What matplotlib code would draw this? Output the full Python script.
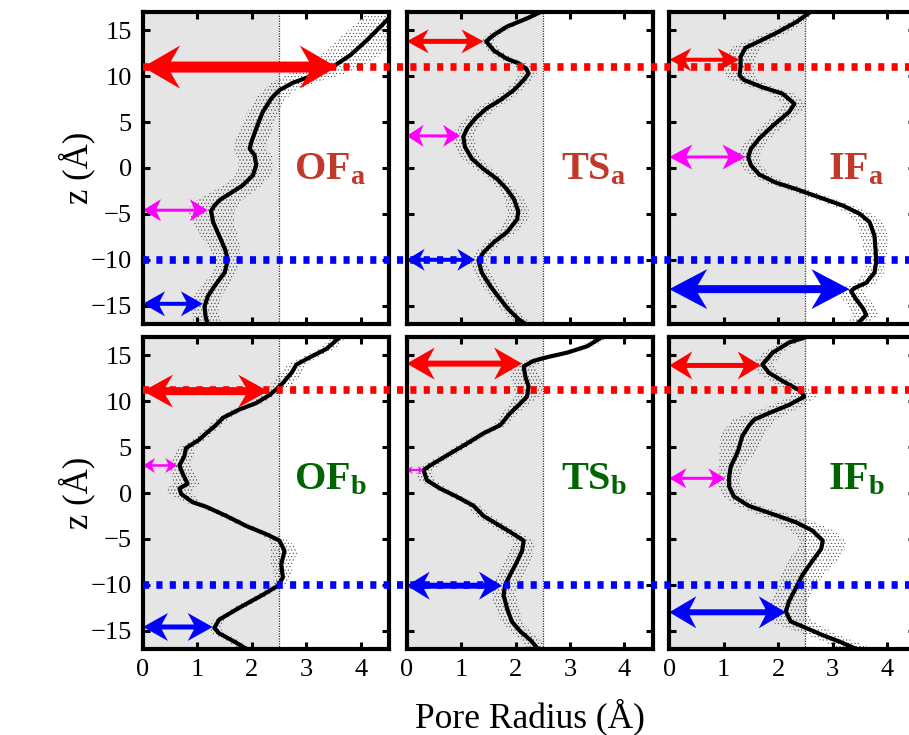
import matplotlib
matplotlib.use("Agg")
import matplotlib.pyplot as plt
from matplotlib.patches import Polygon
from matplotlib.lines import Line2D
import matplotlib.transforms as mtransforms

plt.rcParams['font.family'] = ['Liberation Serif', 'DejaVu Serif']
plt.rcParams['mathtext.fontset'] = 'custom'
plt.rcParams['mathtext.rm'] = 'Liberation Serif'
plt.rcParams['mathtext.bf'] = 'Liberation Serif:bold'
plt.rcParams['hatch.linewidth'] = 0.35

# ---------------- data ----------------
panel_names = [r'$\mathbf{OF_a}$', r'$\mathbf{TS_a}$', r'$\mathbf{IF_a}$',
               r'$\mathbf{OF_b}$', r'$\mathbf{TS_b}$', r'$\mathbf{IF_b}$']

of_a_z = [16.9, 16.1, 13.9, 12.3, 11.2, 10.1, 9.3, 8.5, 7.6, 6.1, 4.3, 2.8, 2.1, 1.4, 0.3, -0.8, -1.9, -2.7, -3.4, -4.1, -4.7, -5.9, -7.4, -8.9, -10.0, -11.4, -12.9, -14.0, -15.1, -16.2, -17.0]
of_a_r = [4.60, 4.48, 4.11, 3.81, 3.53, 3.13, 2.76, 2.51, 2.36, 2.20, 2.08, 1.99, 1.96, 2.05, 2.08, 2.02, 1.83, 1.62, 1.43, 1.31, 1.25, 1.29, 1.40, 1.51, 1.56, 1.50, 1.31, 1.19, 1.13, 1.15, 1.19]
of_a_e = [0.5, 0.5, 0.55, 0.55, 0.55, 0.5, 0.4, 0.3, 0.28, 0.28, 0.3, 0.3, 0.3, 0.32, 0.32, 0.32, 0.35, 0.4, 0.42, 0.43, 0.43, 0.38, 0.34, 0.28, 0.22, 0.22, 0.25, 0.25, 0.25, 0.25, 0.25]

ts_a_z = [17.0, 16.3, 15.4, 14.5, 13.8, 12.8, 11.9, 11.4, 10.8, 10.3, 9.6, 8.5, 7.4, 6.5, 5.4, 4.3, 3.4, 2.3, 1.0, -0.1, -1.2, -2.3, -3.4, -4.7, -5.6, -7.0, -8.1, -9.2, -10.1, -11.4, -12.9, -14.3, -15.4, -16.5, -17.1]
ts_a_r = [2.46, 2.21, 1.84, 1.60, 1.46, 1.60, 1.84, 2.06, 2.20, 2.24, 2.15, 1.97, 1.72, 1.47, 1.26, 1.11, 1.04, 1.07, 1.20, 1.41, 1.66, 1.84, 1.97, 2.05, 2.03, 1.84, 1.60, 1.41, 1.32, 1.38, 1.54, 1.72, 1.87, 2.06, 2.21]
ts_a_e = [0.1, 0.1, 0.12, 0.12, 0.12, 0.12, 0.15, 0.15, 0.15, 0.15, 0.15, 0.15, 0.18, 0.18, 0.18, 0.2, 0.2, 0.2, 0.18, 0.15, 0.15, 0.15, 0.18, 0.2, 0.2, 0.18, 0.15, 0.15, 0.15, 0.15, 0.15, 0.15, 0.15, 0.15, 0.15]

if_a_z = [16.9, 15.9, 14.7, 13.8, 13.1, 12.1, 11.0, 10.1, 9.6, 8.8, 8.1, 7.0, 6.1, 4.6, 3.2, 2.1, 1.2, 0.3, -0.7, -1.6, -2.3, -3.2, -4.1, -5.0, -5.9, -7.4, -8.9, -10.3, -11.4, -12.5, -13.1, -13.4, -14.3, -15.3, -16.0, -16.7, -17.1]
if_a_r = [2.57, 2.33, 1.96, 1.65, 1.40, 1.31, 1.31, 1.29, 1.37, 1.71, 2.08, 2.30, 2.20, 1.90, 1.65, 1.50, 1.45, 1.50, 1.65, 1.96, 2.33, 2.76, 3.19, 3.50, 3.68, 3.77, 3.79, 3.80, 3.77, 3.62, 3.40, 3.34, 3.43, 3.56, 3.62, 3.50, 3.43]
if_a_e = [0.1, 0.15, 0.2, 0.25, 0.28, 0.28, 0.28, 0.28, 0.25, 0.22, 0.22, 0.22, 0.22, 0.2, 0.2, 0.2, 0.2, 0.2, 0.2, 0.2, 0.2, 0.2, 0.2, 0.22, 0.25, 0.25, 0.22, 0.18, 0.18, 0.2, 0.22, 0.22, 0.25, 0.25, 0.25, 0.2, 0.2]

of_b_z = [17.0, 15.7, 14.8, 14.0, 13.1, 12.0, 11.3, 10.7, 9.8, 9.1, 8.2, 7.4, 6.5, 5.8, 4.9, 4.0, 3.0, 2.1, 1.0, 0.5, -0.1, -1.0, -1.5, -2.5, -3.6, -4.5, -5.2, -6.3, -7.8, -9.2, -10.1, -11.1, -12.5, -13.8, -14.7, -15.3, -16.2, -17.1]
of_b_r = [3.62, 3.37, 3.07, 2.82, 2.73, 2.57, 2.45, 2.33, 2.08, 1.77, 1.47, 1.34, 1.16, 1.03, 0.79, 0.76, 0.67, 0.73, 0.82, 0.67, 0.70, 0.91, 1.16, 1.53, 1.90, 2.27, 2.51, 2.60, 2.54, 2.57, 2.48, 2.20, 1.77, 1.40, 1.31, 1.40, 1.68, 1.93]
of_b_e = [0.12, 0.15, 0.15, 0.18, 0.2, 0.2, 0.15, 0.12, 0.12, 0.12, 0.12, 0.12, 0.12, 0.12, 0.15, 0.18, 0.2, 0.22, 0.25, 0.25, 0.22, 0.15, 0.12, 0.12, 0.12, 0.12, 0.18, 0.25, 0.2, 0.15, 0.12, 0.1, 0.1, 0.1, 0.1, 0.12, 0.12, 0.12]

ts_b_z = [17.1, 16.0, 15.3, 14.8, 14.4, 13.8, 12.7, 11.6, 10.5, 9.6, 8.7, 7.4, 6.5, 5.4, 4.1, 3.0, 2.5, 1.4, 0.5, -0.4, -1.4, -2.5, -3.6, -4.5, -5.2, -6.3, -7.8, -8.9, -10.0, -11.1, -12.5, -14.0, -15.1, -16.0, -16.9]
ts_b_r = [3.62, 3.32, 2.95, 2.58, 2.33, 2.15, 2.18, 2.24, 2.21, 2.06, 1.90, 1.72, 1.41, 1.11, 0.74, 0.43, 0.31, 0.37, 0.61, 0.92, 1.23, 1.41, 1.72, 1.97, 2.15, 2.12, 2.00, 1.90, 1.81, 1.78, 1.84, 1.93, 2.09, 2.27, 2.40]
ts_b_e = [0.12, 0.12, 0.12, 0.15, 0.18, 0.22, 0.28, 0.28, 0.22, 0.18, 0.15, 0.12, 0.12, 0.12, 0.12, 0.15, 0.15, 0.15, 0.12, 0.12, 0.12, 0.15, 0.15, 0.18, 0.18, 0.22, 0.25, 0.25, 0.22, 0.22, 0.22, 0.2, 0.18, 0.18, 0.18]

if_b_z = [17.1, 16.4, 15.3, 14.0, 13.1, 12.0, 11.1, 10.5, 9.6, 8.7, 8.0, 7.3, 6.2, 4.7, 4.0, 2.9, 1.8, 0.7, -0.4, -1.4, -2.3, -3.2, -4.1, -5.2, -6.1, -7.4, -8.9, -10.3, -11.8, -12.9, -14.0, -14.7, -15.5, -16.2, -16.9]
if_b_r = [2.57, 2.20, 1.90, 1.71, 1.83, 2.14, 2.42, 2.48, 2.20, 1.83, 1.56, 1.46, 1.34, 1.27, 1.22, 1.13, 1.10, 1.10, 1.19, 1.46, 1.90, 2.33, 2.63, 2.82, 2.79, 2.63, 2.45, 2.33, 2.20, 2.14, 2.23, 2.51, 2.82, 3.13, 3.40]
if_b_e = [0.15, 0.15, 0.18, 0.2, 0.2, 0.22, 0.25, 0.25, 0.3, 0.35, 0.4, 0.4, 0.4, 0.35, 0.3, 0.22, 0.2, 0.2, 0.2, 0.22, 0.3, 0.35, 0.4, 0.42, 0.45, 0.45, 0.4, 0.33, 0.35, 0.4, 0.4, 0.35, 0.3, 0.3, 0.3]

curves = [(of_a_z, of_a_r, of_a_e), (ts_a_z, ts_a_r, ts_a_e), (if_a_z, if_a_r, if_a_e),
          (of_b_z, of_b_r, of_b_e), (ts_b_z, ts_b_r, ts_b_e), (if_b_z, if_b_r, if_b_e)]

# constriction arrows: (z, radius) for red / magenta / blue per panel
arrow_colors = ['#ff0000', '#ff00ff', '#0000ff']
arrow_z = [[11.0, -4.6, -14.8], [13.8, 3.5, -10.0], [11.8, 1.2, -13.2],
           [11.1, 3.0, -14.6], [14.1, 2.5, -10.1], [13.9, 1.6, -13.0]]
arrow_r = [[3.56, 1.19, 1.10], [1.41, 0.98, 1.26], [1.29, 1.40, 3.31],
           [2.30, 0.63, 1.28], [2.12, 0.31, 1.75], [1.68, 1.03, 2.14]]

# reference levels (z) of dotted lines per row: (red, blue)
level_red = [11.0, 11.2]
level_blue = [-10.0, -10.0]
radius_cut = 2.5

x_ticks = [0, 1, 2, 3, 4]
y_ticks = [-15, -10, -5, 0, 5, 10, 15]

# ---------------- styles ----------------
# arrow sizes in pixels: (head length, head width, shaft width)
arrow_sizes = [[(37, 43, 11), (18, 22, 3), (22, 25, 4)],
               [(22, 24, 5), (17, 22, 3), (18, 22, 4)],
               [(22, 23, 4), (23, 25, 3), (38, 40, 8)],
               [(30, 33, 8), (12, 15, 2.5), (25, 28, 5)],
               [(28, 32, 6), (6, 8, 2), (23, 28, 6)],
               [(23, 28, 5), (17, 20, 3), (27, 32, 6)]]

W, H = 909, 735
fig = plt.figure(figsize=(W / 100, H / 100), dpi=100)

col_left = [143, 406.7, 669.3]
ax_w = 246
row_top = [12, 337]
ax_h = 312

axes = []
for row in range(2):
    for col in range(3):
        ax = fig.add_axes([col_left[col] / W, 1 - (row_top[row] + ax_h) / H, ax_w / W, ax_h / H])
        axes.append(ax)

label_colors = ['#c0392b', '#006400']


def double_arrow(ax, z, r, color, size):
    hl, hw, tw = size
    p0 = ax.transData.transform((0.0, z))
    p1 = ax.transData.transform((r, z))
    x0, y0 = p0
    lp = p1[0] - p0[0]
    n = 0.75 * hl
    h = hw / 2.0
    t = tw / 2.0
    rel = [(0, 0), (hl, h), (n, t), (lp - n, t), (lp - hl, h), (lp, 0),
           (lp - hl, -h), (lp - n, -t), (n, -t), (hl, -h)]
    pix = [(x0 + a, y0 + b) for a, b in rel]
    verts = ax.transData.inverted().transform(pix)
    ax.add_patch(Polygon(verts, closed=True, facecolor=color, edgecolor='none',
                         zorder=4, clip_on=False))


for i, ax in enumerate(axes):
    row, col = divmod(i, 3)
    z, r, e = curves[i]
    ax.set_xlim(0, 4.52)
    ax.set_ylim(-17, 17)
    ax.axvspan(0, radius_cut, color='#e5e5e5', lw=0, zorder=0)
    lo = [a - b for a, b in zip(r, e)]
    hi = [a + b for a, b in zip(r, e)]
    ax.fill_betweenx(z, lo, hi, facecolor='none', edgecolor='#333333', hatch='.....', lw=0, zorder=1)
    ax.plot(r, z, color='black', lw=3.0, zorder=3, solid_joinstyle='round')
    ax.axvline(radius_cut, color='#333333', lw=0.9, ls=(0, (1, 1)), zorder=2)
    ax.set_xticks(x_ticks)
    ax.set_yticks(y_ticks)
    ax.tick_params(direction='in', top=True, right=True, length=5, width=2.2,
                   labelsize=19, labelleft=(col == 0), labelbottom=(row == 1))
    ax.tick_params(axis='y', pad=8)
    ax.tick_params(axis='x', pad=7)
    for s in ax.spines.values():
        s.set_linewidth(3.0)
        s.set_zorder(6)
    ax.text(3.44, -1.2 if row == 0 else 0.4, panel_names[i], color=label_colors[row],
            fontsize=29, ha='center', va='baseline', zorder=5)

for i, ax in enumerate(axes):
    for k in range(3):
        double_arrow(ax, arrow_z[i][k], arrow_r[i][k], arrow_colors[k], arrow_sizes[i][k])

# dotted reference levels spanning the panel rows
for row in range(2):
    ax0 = axes[row * 3]
    tr = mtransforms.blended_transform_factory(fig.transFigure, ax0.transData)
    for lvl, c in ((level_red[row], '#ff0000'), (level_blue[row], '#0000ff')):
        ln = Line2D([col_left[0] / W, 1.0], [lvl, lvl], transform=tr, color=c, lw=5.5,
                    ls=(0, (0.8, 0.95)), solid_capstyle='butt', dash_capstyle='butt', zorder=7)
        fig.add_artist(ln)

for row in range(2):
    yc = 1 - (row_top[row] + ax_h / 2) / H
    fig.text(77 / W, yc, 'z (Å)', rotation=90, ha='center', va='center', fontsize=25)

fig.text(529.7 / W, 8 / H, 'Pore Radius (Å)', ha='center', va='baseline', fontsize=25.5)

fig.savefig('out.png', dpi=100)
